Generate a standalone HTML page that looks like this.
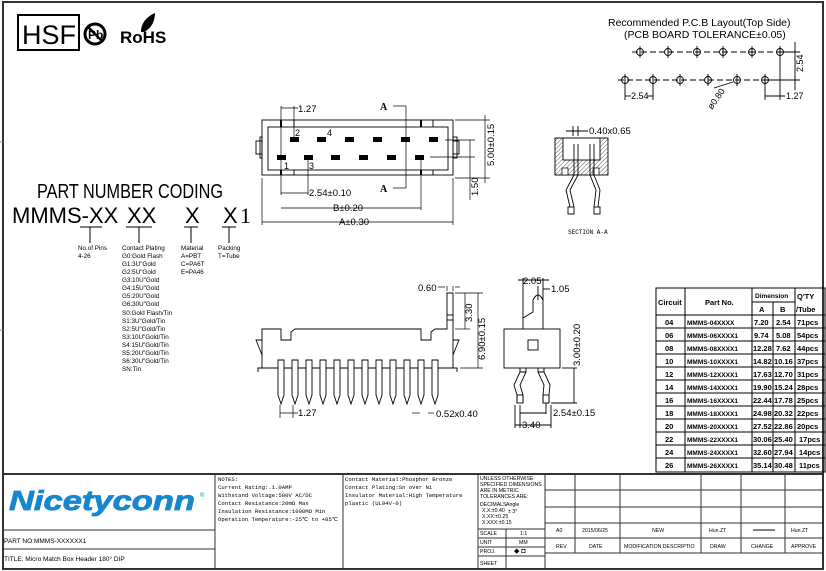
<!DOCTYPE html>
<html><head><meta charset="utf-8"><style>
html,body{margin:0;padding:0;background:#fff;}
svg{display:block;font-family:"Liberation Sans",sans-serif;}
.m{font-family:"Liberation Mono",monospace;}
</style></head><body>
<svg width="826" height="571" viewBox="0 0 826 571" xmlns="http://www.w3.org/2000/svg">
<defs>
<pattern id="h" width="3" height="3" patternUnits="userSpaceOnUse" patternTransform="rotate(45)"><line x1="0" y1="0" x2="0" y2="3" stroke="#333" stroke-width="0.8"/></pattern>
</defs>
<rect x="0" y="0" width="826" height="571" fill="#fff"/>
<!-- frame -->
<rect x="3" y="2" width="820" height="567" fill="none" stroke="#333" stroke-width="2"/>
<g stroke="#888" stroke-width="1">
<line x1="3" y1="142" x2="0" y2="142"/><line x1="3" y1="330" x2="0" y2="330"/>
</g>
<!-- logos -->
<rect x="18" y="15" width="61" height="35" fill="none" stroke="#000" stroke-width="2"/>
<text x="22" y="44" font-size="27" fill="#000">HSF</text>
<circle cx="95" cy="34" r="10" fill="none" stroke="#000" stroke-width="3"/>
<text x="88" y="39" font-size="12" font-weight="bold">Pb</text>
<line x1="88" y1="27" x2="102" y2="41" stroke="#000" stroke-width="2.5"/>
<text x="120" y="43" font-size="17" font-weight="bold">RoHS</text>
<path d="M141 32 C141 22 148 16 155 13 C155 22 150 30 143 32 Z" fill="#000"/>

<!-- part number coding -->
<text x="37" y="198" font-size="20" textLength="186" lengthAdjust="spacingAndGlyphs">PART NUMBER CODING</text>
<text x="12" y="223" font-size="22">MMMS-XX</text>
<text x="127" y="223" font-size="22">XX</text>
<text x="185" y="223" font-size="22">X</text>
<text x="223" y="223" font-size="22">X</text>
<text x="240" y="223" font-size="22" font-family="Liberation Serif">1</text>
<g stroke="#000" stroke-width="1">
<line x1="80" y1="227" x2="102" y2="227"/><line x1="90" y1="227" x2="90" y2="243"/>
<line x1="126" y1="227" x2="152" y2="227"/><line x1="139" y1="227" x2="139" y2="243"/>
<line x1="184" y1="227" x2="198" y2="227"/><line x1="191" y1="227" x2="191" y2="243"/>
<line x1="222" y1="227" x2="236" y2="227"/><line x1="229" y1="227" x2="229" y2="243"/>
</g>
<g font-size="6.3" fill="#000">
<text x="78" y="250">No.of Pins</text><text x="78" y="258">4-26</text>
<text x="122" y="250">Contact Plating</text>
<text x="122" y="258">G0:Gold Flash</text><text x="122" y="266">G1:3U"Gold</text><text x="122" y="274">G2:5U"Gold</text><text x="122" y="282">G3:10U"Gold</text><text x="122" y="290">G4:15U"Gold</text><text x="122" y="298">G5:20U"Gold</text><text x="122" y="306">G6:30U"Gold</text><text x="122" y="315">S0:Gold Flash/Tin</text><text x="122" y="323">S1:3U"Gold/Tin</text><text x="122" y="331">S2:5U"Gold/Tin</text><text x="122" y="339">S3:10U"Gold/Tin</text><text x="122" y="347">S4:15U"Gold/Tin</text><text x="122" y="355">S5:20U"Gold/Tin</text><text x="122" y="363">S6:30U"Gold/Tin</text><text x="122" y="371">SN:Tin</text>
<text x="181" y="250">Material</text><text x="181" y="258">A=PBT</text><text x="181" y="266">C=PA6T</text><text x="181" y="274">E=PA46</text>
<text x="218" y="250">Packing</text><text x="218" y="258">T=Tube</text>
</g>

<!-- PCB layout -->
<text x="608" y="26" font-size="10.5">Recommended  P.C.B  Layout(Top  Side)</text>
<text x="624" y="38" font-size="10.5">(PCB  BOARD  TOLERANCE±0.05)</text>
<g stroke="#000" stroke-width="0.9" fill="none">
<line x1="632" y1="52" x2="792" y2="52" stroke-dasharray="6,3"/>
<line x1="618" y1="80" x2="775" y2="80" stroke-dasharray="6,3"/>
<circle cx="640" cy="52" r="3.5"/><circle cx="668" cy="52" r="3.5"/><circle cx="697" cy="52" r="3.5"/><circle cx="723" cy="52" r="3.5"/><circle cx="752" cy="52" r="3.5"/><circle cx="780" cy="52" r="3.5"/>
<circle cx="625" cy="80" r="3.5"/><circle cx="653" cy="80" r="3.5"/><circle cx="680" cy="80" r="3.5"/><circle cx="708" cy="80" r="3.5"/><circle cx="737" cy="80" r="3.5"/><circle cx="765" cy="80" r="3.5"/>
<line x1="640" y1="46" x2="640" y2="58"/><line x1="668" y1="46" x2="668" y2="58"/><line x1="697" y1="46" x2="697" y2="58"/><line x1="723" y1="46" x2="723" y2="58"/><line x1="752" y1="46" x2="752" y2="58"/><line x1="780" y1="46" x2="780" y2="100"/>
<line x1="625" y1="74" x2="625" y2="100"/><line x1="653" y1="74" x2="653" y2="100"/><line x1="680" y1="74" x2="680" y2="86"/><line x1="708" y1="74" x2="708" y2="86"/><line x1="737" y1="74" x2="737" y2="86"/><line x1="765" y1="74" x2="765" y2="100"/>
<line x1="780" y1="52" x2="800" y2="52"/><line x1="765" y1="80" x2="800" y2="80"/><line x1="795" y1="42" x2="795" y2="90"/>
<line x1="625" y1="96" x2="631" y2="96"/><line x1="647" y1="96" x2="653" y2="96"/>
<line x1="765" y1="96" x2="785" y2="96"/>
<line x1="714" y1="88" x2="733" y2="82"/>
</g>
<text x="631" y="99" font-size="9">2.54</text>
<text x="786" y="99" font-size="9">1.27</text>
<text x="803" y="72" font-size="9" transform="rotate(-90 803 72)">2.54</text>
<text x="712" y="110" font-size="9" transform="rotate(-55 712 110)">ø0.80</text>

<!-- top view -->
<g stroke="#000" stroke-width="0.9" fill="none">
<rect x="262" y="120" width="191" height="55"/>
<rect x="268" y="127" width="180" height="43"/>
<rect x="256" y="141" width="6" height="13"/><rect x="453" y="141" width="6" height="13"/>
<rect x="260" y="137" width="2" height="21"/><rect x="453" y="137" width="4" height="21"/>
<line x1="281" y1="120" x2="281" y2="127" stroke-width="2"/><line x1="281" y1="170" x2="281" y2="175" stroke-width="2"/>
<line x1="421" y1="120" x2="421" y2="127" stroke-width="2"/><line x1="421" y1="170" x2="421" y2="175" stroke-width="2"/>
<line x1="294" y1="120" x2="294" y2="127"/><line x1="294" y1="170" x2="294" y2="175"/>
<line x1="433" y1="120" x2="433" y2="127"/><line x1="433" y1="170" x2="433" y2="175"/>
</g>
<g fill="#000">
<rect x="290" y="137" width="9" height="5"/><rect x="317" y="137" width="9" height="5"/><rect x="345" y="137" width="9" height="5"/><rect x="373" y="137" width="9" height="5"/><rect x="401" y="137" width="9" height="5"/><rect x="429" y="137" width="9" height="5"/>
<rect x="277" y="155" width="9" height="5"/><rect x="304" y="155" width="9" height="5"/><rect x="331" y="155" width="9" height="5"/><rect x="359" y="155" width="9" height="5"/><rect x="387" y="155" width="9" height="5"/><rect x="415" y="155" width="9" height="5"/>
</g>
<g font-size="9"><text x="295" y="136">2</text><text x="327" y="136">4</text><text x="284" y="169">1</text><text x="309" y="169">3</text></g>
<g stroke="#000" stroke-width="0.7" fill="none">
<line x1="281" y1="106" x2="281" y2="195"/><line x1="294" y1="106" x2="294" y2="137"/><line x1="281" y1="108" x2="298" y2="108"/>
<line x1="308" y1="160" x2="308" y2="195"/><line x1="281" y1="193" x2="308" y2="193"/>
<line x1="421" y1="160" x2="421" y2="210"/><line x1="281" y1="208" x2="421" y2="208"/>
<line x1="262" y1="178" x2="262" y2="225"/><line x1="453" y1="178" x2="453" y2="225"/><line x1="262" y1="222" x2="453" y2="222"/>
<line x1="393" y1="106" x2="406" y2="106"/><line x1="406" y1="106" x2="406" y2="188"/><line x1="393" y1="188" x2="406" y2="188"/>
<line x1="455" y1="120" x2="490" y2="120"/><line x1="455" y1="178" x2="490" y2="178"/><line x1="485" y1="115" x2="485" y2="183"/>
<line x1="445" y1="140" x2="475" y2="140"/><line x1="430" y1="157" x2="475" y2="157"/><line x1="470" y1="140" x2="470" y2="200"/>
</g>
<g font-size="9.5">
<text x="298" y="112">1.27</text>
<text x="309" y="196">2.54±0.10</text>
<text x="333" y="211">B±0.20</text>
<text x="339" y="225">A±0.30</text>
</g>
<text x="380" y="110" font-size="10" font-weight="bold" font-family="Liberation Serif">A</text>
<text x="380" y="192" font-size="10" font-weight="bold" font-family="Liberation Serif">A</text>
<text x="494" y="166" font-size="9.5" transform="rotate(-90 494 166)">5.00±0.15</text>
<text x="478" y="196" font-size="9.5" transform="rotate(-90 478 196)">1.50</text>

<!-- section A-A -->
<rect x="555" y="138" width="53" height="37" fill="url(#h)" stroke="#000" stroke-width="0.9"/>
<rect x="563" y="138" width="37" height="22" fill="#fff" stroke="#000" stroke-width="0.9"/>
<rect x="562" y="168" width="6" height="7" fill="#fff" stroke="#000" stroke-width="0.7"/>
<rect x="593" y="168" width="6" height="7" fill="#fff" stroke="#000" stroke-width="0.7"/>
<g stroke="#000" stroke-width="0.9" fill="none">
<path d="M574 144 L574 175 M578 144 L578 175"/><path d="M590 144 L590 175 M594 144 L594 175"/>
<path d="M574 175 L566 190 L570 207 M578 175 L570 190 L574 207"/>
<path d="M590 175 L596 190 L594 207 M594 175 L600 190 L598 207"/>
<rect x="568" y="207" width="6" height="7"/><rect x="594" y="207" width="6" height="7"/>
<line x1="573" y1="126" x2="573" y2="136"/><line x1="578" y1="126" x2="578" y2="136"/><line x1="566" y1="131" x2="588" y2="131"/>
</g>
<text x="589" y="134" font-size="9.5">0.40x0.65</text>
<text x="568" y="234" font-size="6" class="m">SECTION A-A</text>

<!-- front view -->
<g stroke="#000" stroke-width="0.9" fill="none">
<path d="M262 329 L281 329 L281 340 L291 340 L291 332 L295 329 L421 329 L421 340 L431 340 L431 332 L435 329 L447 329 L447 293 L453 293 L453 368 L262 368 Z"/>
<path d="M262 340 L256 340 L262 355 M453 340 L459 340 L453 355"/>
<path d="M262 368 L258 368 L258 372 M453 368 L457 368 L457 372"/>
<line x1="447" y1="315" x2="453" y2="315"/><line x1="447" y1="320" x2="453" y2="320"/>
</g>
<g stroke="#000" stroke-width="0.9" fill="#fff">
<path d="M278 360 L278 395 L281 404 L284 395 L284 360 Z"/>
<path d="M292 360 L292 395 L295 404 L298 395 L298 360 Z"/>
<path d="M306 360 L306 395 L309 404 L312 395 L312 360 Z"/>
<path d="M320 360 L320 395 L323 404 L326 395 L326 360 Z"/>
<path d="M334 360 L334 395 L337 404 L340 395 L340 360 Z"/>
<path d="M348 360 L348 395 L351 404 L354 395 L354 360 Z"/>
<path d="M362 360 L362 395 L365 404 L368 395 L368 360 Z"/>
<path d="M376 360 L376 395 L379 404 L382 395 L382 360 Z"/>
<path d="M390 360 L390 395 L393 404 L396 395 L396 360 Z"/>
<path d="M404 360 L404 395 L407 404 L410 395 L410 360 Z"/>
<path d="M418 360 L418 395 L421 404 L424 395 L424 360 Z"/>
<path d="M432 360 L432 395 L435 404 L438 395 L438 360 Z"/>
</g>
<g stroke="#000" stroke-width="0.7" fill="none">
<line x1="280" y1="405" x2="280" y2="418"/><line x1="293" y1="405" x2="293" y2="418"/><line x1="280" y1="413" x2="298" y2="413"/>
<line x1="412" y1="413" x2="420" y2="413"/><line x1="428" y1="413" x2="434" y2="413"/>
<line x1="447" y1="286" x2="447" y2="291"/><line x1="453" y1="286" x2="453" y2="291"/><line x1="438" y1="287" x2="445" y2="287"/><line x1="455" y1="287" x2="460" y2="287"/>
<line x1="455" y1="293" x2="483" y2="293"/><line x1="455" y1="329" x2="470" y2="329"/><line x1="460" y1="368" x2="483" y2="368"/>
<line x1="465" y1="293" x2="465" y2="329"/><line x1="478" y1="293" x2="478" y2="368"/>
</g>
<g font-size="9.5">
<text x="418" y="291">0.60</text>
<text x="298" y="416">1.27</text>
<text x="436" y="417">0.52x0.40</text>
</g>
<text x="472" y="322" font-size="9.5" transform="rotate(-90 472 322)">3.30</text>
<text x="485" y="360" font-size="9.5" transform="rotate(-90 485 360)">6.90±0.15</text>

<!-- side view -->
<g stroke="#000" stroke-width="0.9" fill="none">
<rect x="504" y="329" width="56" height="39"/>
<rect x="528" y="340" width="10" height="10"/>
<path d="M523 329 L523 318 L533 312 L533 300 Q538 290 543 300 L543 329"/>
<path d="M520 368 L520 372 L526 372 L526 368 M538 368 L538 372 L544 372 L544 368"/>
<path d="M520 372 L514 385 L517 395 L517 403 M526 372 L520 385 L523 395 L523 403"/>
<path d="M538 372 L544 385 L543 395 L543 403 M544 372 L550 385 L549 395 L549 403"/>
<rect x="517" y="395" width="6" height="8"/><rect x="543" y="395" width="6" height="8"/>
<line x1="523" y1="278" x2="523" y2="318"/><line x1="543" y1="278" x2="543" y2="300"/><line x1="518" y1="280" x2="549" y2="280"/>
<line x1="538" y1="286" x2="538" y2="300"/><line x1="543" y1="289" x2="550" y2="289"/>
<line x1="562" y1="368" x2="577" y2="368"/><line x1="551" y1="403" x2="577" y2="403"/><line x1="574" y1="368" x2="574" y2="403"/>
<line x1="520" y1="405" x2="520" y2="428"/><line x1="546" y1="403" x2="546" y2="414"/><line x1="520" y1="413" x2="546" y2="413"/>
<line x1="515" y1="405" x2="515" y2="428"/><line x1="551" y1="405" x2="551" y2="428"/><line x1="515" y1="425" x2="551" y2="425"/>
</g>
<g font-size="9.5">
<text x="523" y="284">2.05</text><text x="551" y="292">1.05</text>
<text x="553" y="416">2.54±0.15</text><text x="522" y="428">3.40</text>
</g>
<text x="580" y="366" font-size="9.5" transform="rotate(-90 580 366)">3.00±0.20</text>

<!-- dimension table -->
<g stroke="#000" stroke-width="1" fill="none">
<rect x="656" y="288" width="169" height="184"/>
<line x1="685" y1="288" x2="685" y2="472"/><line x1="752" y1="288" x2="752" y2="472"/><line x1="773" y1="302" x2="773" y2="472"/><line x1="795" y1="288" x2="795" y2="472"/>
<line x1="752" y1="302" x2="795" y2="302"/>
<line x1="656" y1="315" x2="825" y2="315"/><line x1="656" y1="328" x2="825" y2="328"/><line x1="656" y1="341" x2="825" y2="341"/><line x1="656" y1="354" x2="825" y2="354"/><line x1="656" y1="367" x2="825" y2="367"/><line x1="656" y1="380" x2="825" y2="380"/><line x1="656" y1="393" x2="825" y2="393"/><line x1="656" y1="406" x2="825" y2="406"/><line x1="656" y1="419" x2="825" y2="419"/><line x1="656" y1="432" x2="825" y2="432"/><line x1="656" y1="445" x2="825" y2="445"/><line x1="656" y1="458" x2="825" y2="458"/>
</g>
<g font-size="7.5" font-weight="bold">
<text x="658" y="305">Circuit</text><text x="705" y="305">Part  No.</text>
<text x="755" y="298" font-size="6.5">Dimension</text><text x="797" y="299">Q'TY</text>
<text x="759" y="312">A</text><text x="780" y="312">B</text><text x="796" y="312">/Tube</text>
</g>
<g font-size="7.5" font-weight="bold">
<text x="665" y="325">04</text><text x="687" y="325" font-size="6.5">MMMS-04XXXX</text><text x="754" y="325">7.20</text><text x="776" y="325">2.54</text><text x="797" y="325">71pcs</text>
<text x="665" y="338">06</text><text x="687" y="338" font-size="6.5">MMMS-06XXXX1</text><text x="754" y="338">9.74</text><text x="776" y="338">5.08</text><text x="797" y="338">54pcs</text>
<text x="665" y="351">08</text><text x="687" y="351" font-size="6.5">MMMS-08XXXX1</text><text x="753" y="351">12.28</text><text x="776" y="351">7.62</text><text x="797" y="351">44pcs</text>
<text x="665" y="364">10</text><text x="687" y="364" font-size="6.5">MMMS-10XXXX1</text><text x="753" y="364">14.82</text><text x="774" y="364">10.16</text><text x="797" y="364">37pcs</text>
<text x="665" y="377">12</text><text x="687" y="377" font-size="6.5">MMMS-12XXXX1</text><text x="753" y="377">17.63</text><text x="774" y="377">12.70</text><text x="797" y="377">31pcs</text>
<text x="665" y="390">14</text><text x="687" y="390" font-size="6.5">MMMS-14XXXX1</text><text x="753" y="390">19.90</text><text x="774" y="390">15.24</text><text x="797" y="390">28pcs</text>
<text x="665" y="403">16</text><text x="687" y="403" font-size="6.5">MMMS-16XXXX1</text><text x="753" y="403">22.44</text><text x="774" y="403">17.78</text><text x="797" y="403">25pcs</text>
<text x="665" y="416">18</text><text x="687" y="416" font-size="6.5">MMMS-18XXXX1</text><text x="753" y="416">24.98</text><text x="774" y="416">20.32</text><text x="797" y="416">22pcs</text>
<text x="665" y="429">20</text><text x="687" y="429" font-size="6.5">MMMS-20XXXX1</text><text x="753" y="429">27.52</text><text x="774" y="429">22.86</text><text x="797" y="429">20pcs</text>
<text x="665" y="442">22</text><text x="687" y="442" font-size="6.5">MMMS-22XXXX1</text><text x="753" y="442">30.06</text><text x="774" y="442">25.40</text><text x="799" y="442">17pcs</text>
<text x="665" y="455">24</text><text x="687" y="455" font-size="6.5">MMMS-24XXXX1</text><text x="753" y="455">32.60</text><text x="774" y="455">27.94</text><text x="799" y="455">14pcs</text>
<text x="665" y="468">26</text><text x="687" y="468" font-size="6.5">MMMS-26XXXX1</text><text x="753" y="468">35.14</text><text x="774" y="468">30.48</text><text x="799" y="468">11pcs</text>
</g>

<!-- title block -->
<g stroke="#333" stroke-width="1" fill="none">
<line x1="3" y1="474" x2="823" y2="474" stroke-width="2"/>
<line x1="215" y1="474" x2="215" y2="569"/><line x1="343" y1="474" x2="343" y2="569"/><line x1="478" y1="474" x2="478" y2="569"/>
<line x1="3" y1="530" x2="215" y2="530"/><line x1="3" y1="549" x2="215" y2="549"/>
<line x1="545" y1="474" x2="545" y2="569"/><line x1="575" y1="474" x2="575" y2="553"/><line x1="620" y1="474" x2="620" y2="553"/><line x1="701" y1="474" x2="701" y2="553"/><line x1="741" y1="474" x2="741" y2="553"/><line x1="785" y1="474" x2="785" y2="553"/>
<line x1="545" y1="490" x2="823" y2="490"/><line x1="545" y1="507" x2="823" y2="507"/><line x1="545" y1="523" x2="823" y2="523"/><line x1="545" y1="538" x2="823" y2="538"/><line x1="545" y1="553" x2="823" y2="553"/>
<line x1="478" y1="529" x2="545" y2="529"/><line x1="478" y1="538" x2="545" y2="538"/><line x1="478" y1="547" x2="545" y2="547"/><line x1="478" y1="556" x2="545" y2="556"/>
<line x1="506" y1="529" x2="506" y2="569"/>
<line x1="753" y1="530" x2="775" y2="530" stroke="#000"/>
</g>
<text x="9" y="510" font-size="28" font-weight="bold" font-style="italic" fill="#1686cf" textLength="186" lengthAdjust="spacingAndGlyphs" stroke="#1686cf" stroke-width="0.8">Nicetyconn</text>
<text x="200" y="497" font-size="6" fill="#1686cf">®</text>
<text x="4" y="543" font-size="6.5">PART NO:MMMS-XXXXXX1</text>
<text x="4" y="561" font-size="6.5">TITLE: Micro Match Box Header 180° DIP</text>
<g font-size="5.6" class="m">
<text x="218" y="481">NOTES:</text>
<text x="218" y="489">Current Rating:.1.0AMP</text>
<text x="218" y="497">Withstand Voltage:500V AC/DC</text>
<text x="218" y="505">Contact Resistance:20mΩ Max</text>
<text x="218" y="513">Insulation Resistance:1000MΩ Min</text>
<text x="218" y="521">Operation Temperature:-25℃ to +85℃</text>
<text x="345" y="481">Contact Material:Phosphor Bronze</text>
<text x="345" y="489">Contact Plating:Sn over Ni</text>
<text x="345" y="497">Insulator Material:High Temperature</text>
<text x="345" y="505">plastic (UL94V-0)</text>
</g>
<g font-size="5.2">
<text x="480" y="480">UNLESS OTHERWISE</text><text x="480" y="486">SPECIFIED DIMENSIONS</text><text x="480" y="492">ARE IN METRIC</text><text x="480" y="498">TOLERANCES  ARE:</text>
<text x="480" y="506">DECIMALS</text><text x="506" y="506">Angle</text>
<text x="482" y="512">X.X:±0.40</text><text x="508" y="513">± 3°</text>
<text x="482" y="518">X.XX:±0.25</text><text x="482" y="524">X.XXX:±0.15</text>
<text x="480" y="535">SCALE</text><text x="520" y="535">1:1</text>
<text x="480" y="544">UNIT</text><text x="519" y="544">MM</text>
<text x="480" y="553">PROJ.</text><text x="514" y="553" font-size="7">◆ ◘</text>
<text x="480" y="565">SHEET</text>
<text x="556" y="532">A0</text><text x="582" y="532">2015/06/25</text><text x="652" y="532">NEW</text><text x="709" y="532">Hun.ZT</text><text x="791" y="532">Hun.ZT</text>
<text x="556" y="548">REV</text><text x="589" y="548">DATE</text><text x="624" y="548">MODIFICATION DESCRIPTIO</text><text x="710" y="548">DRAW</text><text x="751" y="548">CHANGE</text><text x="791" y="548">APPROVE</text>
</g>
</svg>
</body></html>
